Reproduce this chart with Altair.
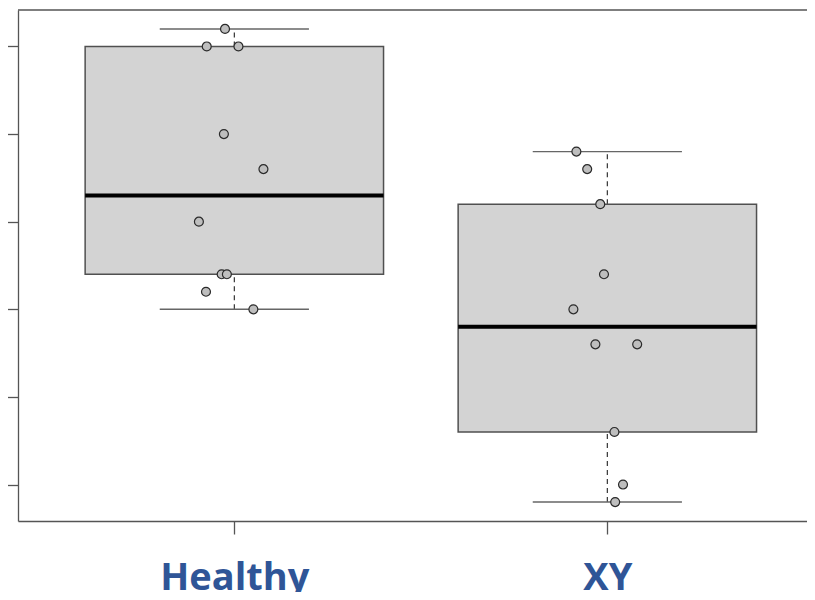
import math
import altair as alt
import numpy as np
import pandas as pd

# ---- data ----
groups = ["Healthy", "XY"]
group_pos = [1, 2]
healthy_values = [6.2, 6.0, 6.0, 5.0, 4.6, 4.0, 3.4, 3.4, 3.2, 3.0]
healthy_jitter = [-0.025, -0.074, 0.011, -0.028, 0.078, -0.095, -0.034, -0.020, -0.076, 0.051]
xy_values = [4.8, 4.6, 4.2, 3.4, 3.0, 2.6, 2.6, 1.6, 1.0, 0.8]
xy_jitter = [-0.083, -0.054, -0.019, -0.009, -0.091, -0.032, 0.080, 0.019, 0.042, 0.021]
y_ticks = [1, 2, 3, 4, 5, 6]

BOX_HALF = 0.4
CAP_HALF = 0.2


def fivenum(vals):
    v = sorted(vals)
    n = len(v)
    n4 = math.floor((n + 3) / 2) / 2
    d = [1, n4, (n + 1) / 2, n + 1 - n4, n]
    return [0.5 * (v[math.floor(di - 1)] + v[math.ceil(di - 1)]) for di in d]


rows = []
pts = []
for g, p, vals, jit in [(groups[0], group_pos[0], healthy_values, healthy_jitter),
                        (groups[1], group_pos[1], xy_values, xy_jitter)]:
    lo, q1, med, q3, hi = fivenum(vals)
    rows.append(dict(group=g, pos=p, left=p - BOX_HALF, right=p + BOX_HALF,
                     capL=p - CAP_HALF, capR=p + CAP_HALF,
                     lo=lo, q1=q1, med=med, q3=q3, hi=hi))
    for v, j in zip(vals, jit):
        pts.append(dict(group=g, x=p + j, value=v))

box_df = pd.DataFrame(rows)
pt_df = pd.DataFrame(pts)

W, H = 789, 511
xs = alt.Scale(domain=[0.42, 0.42 + W / 373.0], nice=False, zero=False)
ys = alt.Scale(domain=[0.584, 6.416], nice=False, zero=False)
FRAME = "#555555"

label_expr = " : ".join(
    [f"datum.value == {p} ? '{g}'" for p, g in zip(group_pos[:-1], groups[:-1])]
) + f" : '{groups[-1]}'"

x_axis = alt.Axis(values=group_pos, tickSize=13, labelExpr=label_expr, title=None,
                  grid=False, domainColor=FRAME, tickColor=FRAME, labelFont="Open Sans",
                  labelFontSize=38, labelFontWeight="bold", labelColor="#2F5597",
                  labelBaseline="alphabetic", labelPadding=55, labelOverlap=False,
                  labelFlush=False, domainWidth=1.3, tickWidth=1.3)
y_axis = alt.Axis(values=y_ticks, tickSize=13, labels=False, title=None, grid=False,
                  domainColor=FRAME, tickColor=FRAME, domainWidth=1.3, tickWidth=1.3)


def X(field):
    return alt.X(field, scale=xs, axis=x_axis)


def Y(field):
    return alt.Y(field, scale=ys, axis=y_axis)


base = alt.Chart(box_df)

whisk_hi = base.mark_rule(color="#333333", strokeDash=[5, 4], strokeWidth=1.2).encode(
    x=X("pos:Q"), y=Y("q3:Q"), y2="hi:Q")
whisk_lo = base.mark_rule(color="#333333", strokeDash=[5, 4], strokeWidth=1.2).encode(
    x=X("pos:Q"), y=Y("lo:Q"), y2="q1:Q")
cap_hi = base.mark_rule(color="#666666", strokeWidth=1.4).encode(
    x=X("capL:Q"), x2="capR:Q", y=Y("hi:Q"))
cap_lo = base.mark_rule(color="#666666", strokeWidth=1.4).encode(
    x=X("capL:Q"), x2="capR:Q", y=Y("lo:Q"))
box = base.mark_rect(fill="#D3D3D3", stroke="#505050", strokeWidth=1.5).encode(
    x=X("left:Q"), x2="right:Q", y=Y("q1:Q"), y2="q3:Q")
median = base.mark_rule(color="black", strokeWidth=4).encode(
    x=X("left:Q"), x2="right:Q", y=Y("med:Q"))
points = alt.Chart(pt_df).mark_circle(fill="#BEBEBE", stroke="#2A2A2A", strokeWidth=1.2,
                                      opacity=1, size=80).encode(
    x=X("x:Q"), y=Y("value:Q"))
top_frame = alt.Chart(pd.DataFrame({"a": [0]})).mark_rule(color=FRAME, strokeWidth=1.3).encode(
    x=alt.value(0), x2=alt.value(W), y=alt.value(0))

chart = alt.layer(whisk_hi, whisk_lo, cap_hi, cap_lo, box, median, points, top_frame).properties(
    width=W, height=H,
    autosize=alt.AutoSizeParams(type="none"),
    padding={"left": 10, "top": 2, "right": 0, "bottom": 71},
    background="white",
).configure_view(stroke="transparent", strokeWidth=0)

chart.save("out.html", embed_options={"renderer": "svg", "actions": False})
